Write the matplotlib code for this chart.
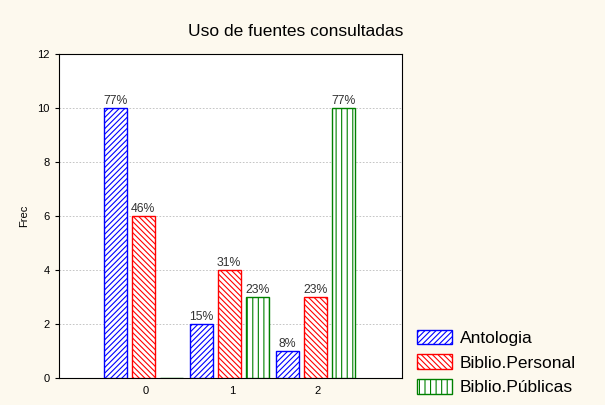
import numpy as np
import matplotlib.pyplot as plt
import matplotlib.patches as mpatches

plt.rcParams['font.family'] = ['Liberation Sans', 'DejaVu Sans']
plt.rcParams['hatch.linewidth'] = 0.8

# datos
categorias = [0, 1, 2]
antologia = [10, 2, 1]
biblio_personal = [6, 4, 3]
biblio_publicas = [0, 3, 10]
pct_antologia = ['77%', '15%', '8%']
pct_personal = ['46%', '31%', '23%']
pct_publicas = ['', '23%', '77%']

series = [
    ('Antologia', antologia, pct_antologia, 'blue', '//////'),
    ('Biblio.Personal', biblio_personal, pct_personal, 'red', '\\\\\\\\\\\\'),
    ('Biblio.Públicas', biblio_publicas, pct_publicas, 'green', '|||'),
]

fig = plt.figure(figsize=(6.05, 4.05), dpi=100, facecolor='#fdf9ee')
ax = fig.add_axes([0.0975, 0.0667, 0.567, 0.80])
ax.set_facecolor('white')

x = np.array(categorias, dtype=float)
ancho = 0.27
paso = 0.326
for i, (nombre, vals, pcts, color, hatch) in enumerate(series):
    pos = x + (i - 1) * paso - 0.03
    ax.bar(pos, vals, width=ancho, facecolor='white', edgecolor=color,
           hatch=hatch, linewidth=1.0, zorder=3)
    for p, v, t in zip(pos, vals, pcts):
        if t:
            ax.text(p, v + 0.03, t, ha='center', va='bottom', fontsize=8.8,
                    color='#333333', zorder=4)

ax.set_xlim(-1.01, 2.98)
ax.set_ylim(0, 12)
ax.set_xticks(categorias)
ax.set_yticks(range(0, 13, 2))
ax.tick_params(labelsize=8, length=3)
ax.tick_params(axis='x', length=0, pad=6)
ax.yaxis.grid(True, linestyle=(0, (2, 2)), color='#bbbbbb', linewidth=0.6)
ax.set_axisbelow(True)
ax.set_ylabel('Frec', fontsize=8, labelpad=6)
for s in ax.spines.values():
    s.set_linewidth(0.8)

fig.text(0.488, 0.921, 'Uso de fuentes consultadas', ha='center', va='center',
         fontsize=12.5)

handles = [mpatches.Patch(facecolor='white', edgecolor=c, hatch=h, label=n)
           for n, _, _, c, h in series]
fig.legend(handles=handles, loc='lower left', bbox_to_anchor=(0.664, -0.015),
           frameon=False, fontsize=12.5, handlelength=2.0, handleheight=0.9,
           handletextpad=0.45, labelspacing=0.5)

fig.savefig('out.png', dpi=100, facecolor=fig.get_facecolor())
